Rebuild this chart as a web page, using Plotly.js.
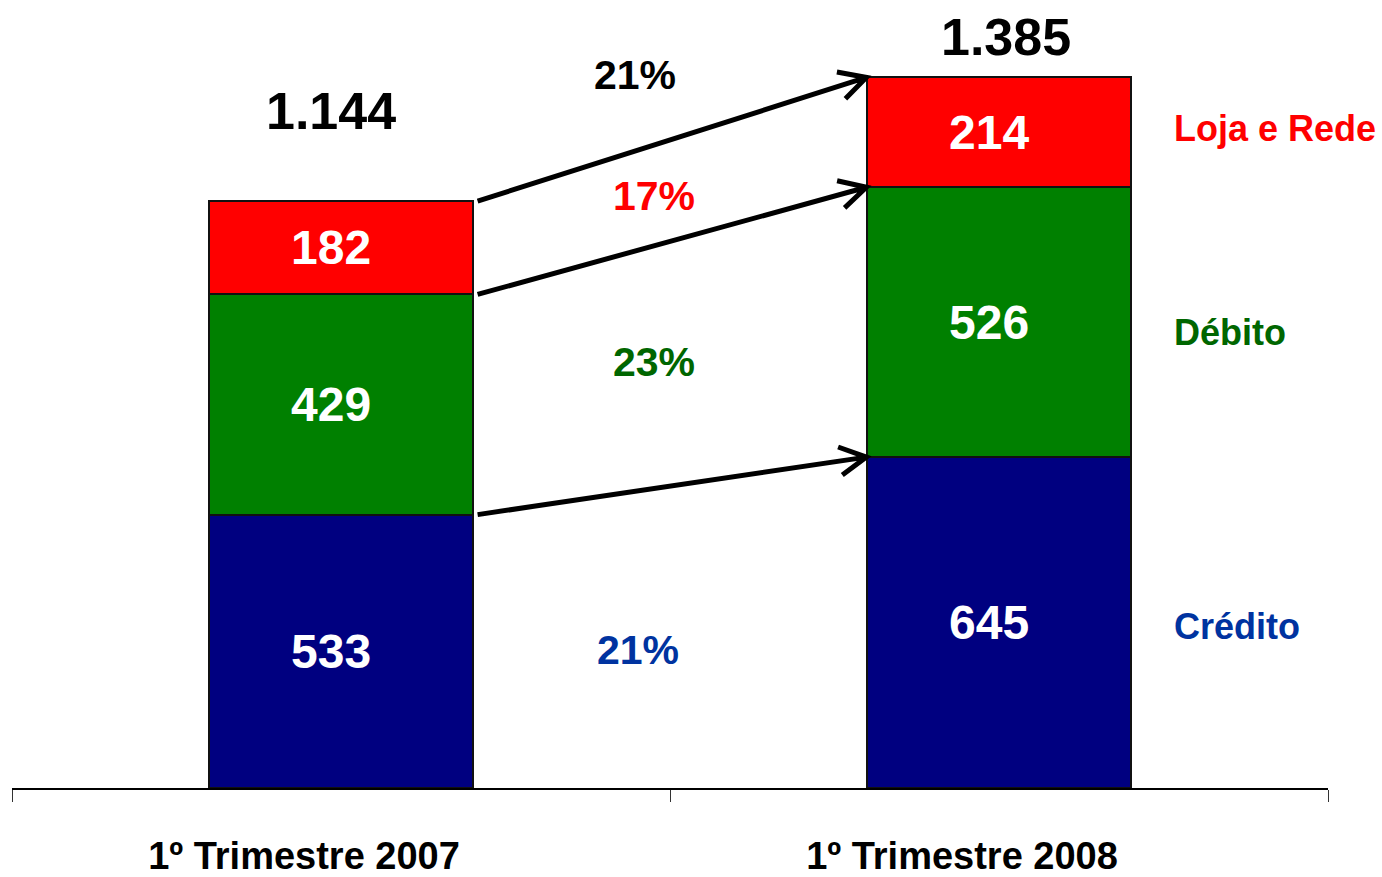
<!DOCTYPE html>
<html><head><meta charset="utf-8">
<script src="https://cdn.plot.ly/plotly-3.0.1.min.js"></script>
<style>html,body{margin:0;padding:0;background:#fff}</style>
</head><body><div id="chart" style="width:1382px;height:877px"></div>
<script>
// ---- data ----
const categories = ['1º Trimestre 2007', '1º Trimestre 2008'];
const credito = [533, 645];
const debito = [429, 526];
const lojaRede = [182, 214];
const seriesNames = ['Crédito', 'Débito', 'Loja e Rede'];
const growthTotal = '21%';
const growthLoja = '17%';
const growthDebito = '23%';
const growthCredito = '21%';

// ---- style ----
const FONT = '"Liberation Sans", Arial, Helvetica, sans-serif';
const barColors = ['#000080', '#008000', '#FF0000'];
const labelColors = ['#0033A0', '#006600', '#FF0000'];
const W = 1382, H = 877;
const M = {l: 12, r: 54, t: 0, b: 89};
const YMAX = 1536;
const XR = [-0.5, 1.5];
const plotW = W - M.l - M.r, plotH = H - M.t - M.b;
const pxX = plotW / (XR[1] - XR[0]);
const pxY = plotH / YMAX;
const BARW = 0.4;

const series = [credito, debito, lojaRede];
const totals = categories.map((c, i) => series.reduce((s, a) => s + a[i], 0));
const fmt = v => String(v).replace(/\B(?=(\d{3})+(?!\d))/g, '.');

const traces = series.map((vals, k) => ({
  type: 'bar', x: categories, y: vals, name: seriesNames[k], width: BARW,
  marker: {color: barColors[k], line: {color: '#111', width: 2}},
  hoverinfo: 'skip'
}));

// cumulative tops
const cum = categories.map((c, i) => {
  let s = 0; return series.map(a => (s += a[i]));
});

const annotations = [];
// segment values (white, centred in each segment)
categories.forEach((c, i) => {
  series.forEach((a, k) => {
    annotations.push({xref: 'x', yref: 'y', x: i, y: cum[i][k] - a[i] / 2, xshift: -10,
      text: String(a[i]), showarrow: false, xanchor: 'center', yanchor: 'middle',
      font: {family: FONT, size: 48, color: '#ffffff', weight: 'bold'}});
  });
});
// totals (positions as in original)
annotations.push({xref: 'x', yref: 'paper', x: 0, xshift: -10, y: (788 - 111) / plotH, text: fmt(totals[0]),
  showarrow: false, font: {family: FONT, size: 52, color: '#000', weight: 'bold'}, yanchor: 'middle'});
annotations.push({xref: 'x', yref: 'paper', x: 1, xshift: 7, y: (788 - 37) / plotH, text: fmt(totals[1]),
  showarrow: false, font: {family: FONT, size: 52, color: '#000', weight: 'bold'}, yanchor: 'middle'});
// growth labels
const growth = [
  {t: growthTotal, px: 635, py: 75, c: '#000000'},
  {t: growthLoja, px: 654, py: 196, c: labelColors[2]},
  {t: growthDebito, px: 654, py: 362, c: labelColors[1]},
  {t: growthCredito, px: 638, py: 650, c: labelColors[0]}
];
growth.forEach(g => annotations.push({
  xref: 'paper', yref: 'paper', x: (g.px - M.l) / plotW, y: (788 - g.py) / plotH, text: g.t,
  showarrow: false, xanchor: 'center', yanchor: 'middle',
  font: {family: FONT, size: 41, color: g.c, weight: 'bold'}
}));
// series labels on the right, aligned with the 2008 segments
const i2 = 1;
series.forEach((a, k) => {
  const center = cum[i2][k] - a[i2] / 2;
  annotations.push({
    xref: 'paper', yref: 'y', x: (1172 - M.l) / plotW, y: center, yshift: k === 2 ? 4 : (k === 1 ? -10 : -4),
    text: seriesNames[k], showarrow: false, xanchor: 'left', yanchor: 'middle',
    font: {family: FONT, size: 36, color: labelColors[k], weight: 'bold'}
  });
});

// arrows from 2007 stack tops to 2008 stack tops
const shapes = [];
const xTail = 0 + BARW / 2 + 5 / pxX;
const xHead = 1 - BARW / 2 - 1 / pxX;
const ARM = 30, ANG = 28 * Math.PI / 180;
for (let k = 0; k < 3; k++) {
  const yT = cum[0][k], yH = cum[1][k];
  const dx = (xTail - xHead) * pxX;          // pixel offset of tail from head (x right)
  const dy = (yT - yH) * pxY;                // pixel offset (y up)
  const len = Math.hypot(dx, dy);
  const ux = dx / len, uy = dy / len;
  const rot = a => [ARM * (ux * Math.cos(a) - uy * Math.sin(a)), ARM * (ux * Math.sin(a) + uy * Math.cos(a))];
  const a1 = rot(ANG), a2 = rot(-ANG);
  const path = `M${dx.toFixed(1)},${dy.toFixed(1)} L0,0 M${a1[0].toFixed(1)},${a1[1].toFixed(1)} L0,0 L${a2[0].toFixed(1)},${a2[1].toFixed(1)}`;
  shapes.push({type: 'path', xref: 'x', yref: 'y', xsizemode: 'pixel', ysizemode: 'pixel',
    xanchor: xHead, yanchor: yH, path: path, line: {color: '#000', width: 5}, layer: 'above'});
}

const layout = {
  width: W, height: H, margin: M, barmode: 'stack', showlegend: false,
  paper_bgcolor: '#fff', plot_bgcolor: '#fff', hovermode: false,
  xaxis: {type: 'category', range: XR, showline: true, linecolor: '#000', linewidth: 1.5,
    ticks: 'outside', tickson: 'boundaries', ticklen: 12, tickcolor: '#333', tickwidth: 1,
    showgrid: false, zeroline: false, ticklabelshift: -37, ticklabelstandoff: 34,
    tickfont: {family: FONT, size: 38, color: '#000', weight: 'bold'}},
  yaxis: {range: [0, YMAX], visible: false, showgrid: false, zeroline: false},
  annotations: annotations, shapes: shapes
};
Plotly.newPlot('chart', traces, layout, {displayModeBar: false, staticPlot: true});
</script></body></html>
